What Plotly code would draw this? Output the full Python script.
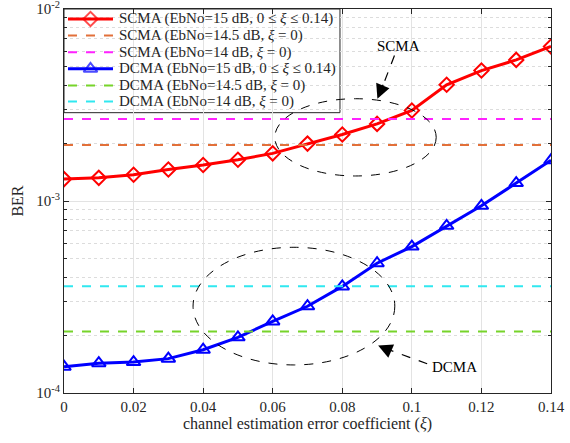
import plotly.graph_objects as go
import math

xi = [0, 0.01, 0.02, 0.03, 0.04, 0.05, 0.06, 0.07, 0.08, 0.09, 0.10, 0.11, 0.12, 0.13, 0.14]
scma_15 = [1.30e-3, 1.32e-3, 1.37e-3, 1.46e-3, 1.54e-3, 1.64e-3, 1.77e-3, 1.99e-3,
           2.22e-3, 2.52e-3, 2.96e-3, 4.03e-3, 4.78e-3, 5.43e-3, 6.38e-3]
dcma_15 = [1.37e-4, 1.43e-4, 1.45e-4, 1.51e-4, 1.68e-4, 1.95e-4, 2.36e-4, 2.83e-4,
           3.59e-4, 4.74e-4, 5.79e-4, 7.43e-4, 9.44e-4, 1.24e-3, 1.63e-3]
scma_145 = 1.96e-3
scma_14 = 2.67e-3
dcma_145 = 2.09e-4
dcma_14 = 3.60e-4

names = [
    "SCMA (EbNo=15 dB, 0 ≤ <i>ξ</i> ≤ 0.14)",
    "SCMA (EbNo=14.5 dB, <i>ξ</i> = 0)",
    "SCMA (EbNo=14 dB, <i>ξ</i> = 0)",
    "DCMA (EbNo=15 dB, 0 ≤ <i>ξ</i> ≤ 0.14)",
    "DCMA (EbNo=14.5 dB, <i>ξ</i> = 0)",
    "DCMA (EbNo=14 dB, <i>ξ</i> = 0)",
]
x_tick_vals = [0, 0.02, 0.04, 0.06, 0.08, 0.10, 0.12, 0.14]
x_tick_text = ["0", "0.02", "0.04", "0.06", "0.08", "0.1", "0.12", "0.14"]
y_tick_vals = [1e-4, 1e-3, 1e-2]
y_tick_text = ["10<sup>-4</sup>", "10<sup>-3</sup>", "10<sup>-2</sup>"]

FONT = "Liberation Serif"
INK = "#262626"

styles = [
    dict(line=dict(color="#FF0000", width=3),
         marker=dict(symbol="diamond-open", size=11, color="#FF0000", line=dict(width=2, color="#FF0000"))),
    dict(line=dict(color="#E2703A", width=2, dash="dash")),
    dict(line=dict(color="#FF22FF", width=2, dash="dash")),
    dict(line=dict(color="#0000FF", width=3),
         marker=dict(symbol="triangle-up-open", size=12, color="#0000FF", line=dict(width=2, color="#0000FF"))),
    dict(line=dict(color="#77D42A", width=2, dash="dash")),
    dict(line=dict(color="#30E8F0", width=2, dash="dash")),
]
series = [scma_15, [scma_145] * len(xi), [scma_14] * len(xi),
          dcma_15, [dcma_145] * len(xi), [dcma_14] * len(xi)]

fig = go.Figure()
for nm, ys, st in zip(names, series, styles):
    mode = "lines+markers" if "marker" in st else "lines"
    fig.add_trace(go.Scatter(x=xi, y=ys, mode=mode, name=nm, showlegend=False, **st))

# ---- manual legend (drawn in plot-fraction coordinates on a hidden overlay axis) ----
leg_x0, leg_x1, leg_y0, leg_y1 = 0.0, 0.5667, 0.730, 1.0
row_px = [19, 35.6, 52.2, 68.8, 85.4, 101.6]
plot_top, plot_h = 9, 384
row_y = [(plot_top + plot_h - p) / plot_h for p in row_px]
sx0, sx1, tx = 0.0082, 0.1006, 0.1088

fig.add_shape(type="rect", xref="paper", yref="paper", x0=leg_x0, x1=leg_x1, y0=leg_y0, y1=leg_y1,
              line=dict(color=INK, width=1), fillcolor="white", layer="between")
for nm, ry, st in zip(names, row_y, styles):
    s = dict(st)
    if "marker" in s:
        mk = dict(s["marker"])
        mk["size"] = [0, mk["size"], 0]
        s["marker"] = mk
        mode = "lines+markers"
    else:
        mode = "lines"
    fig.add_trace(go.Scatter(x=[sx0, (sx0 + sx1) / 2, sx1], y=[ry, ry, ry], mode=mode,
                             xaxis="x2", yaxis="y2", showlegend=False, hoverinfo="skip", **s))
    fig.add_annotation(x=tx, y=ry, xref="paper", yref="paper", text=nm, showarrow=False,
                       xanchor="left", yanchor="middle",
                       font=dict(family=FONT, size=15, color=INK))

# ---- ellipses ----
fig.add_shape(type="circle", xref="x", yref="y", x0=0.0606, x1=0.107, y0=1.35e-3, y1=3.41e-3,
              line=dict(color="black", width=1, dash="dash"))
fig.add_shape(type="circle", xref="x", yref="y", x0=0.0371, x1=0.0951, y0=1.40e-4, y1=5.74e-4,
              line=dict(color="black", width=1, dash="dash"))

# ---- dashed arrow shafts ----
fig.add_shape(type="line", xref="x", yref="y", x0=0.0950, y0=5.72e-3, x1=0.0917, y1=4.0e-3,
              line=dict(color="black", width=1.2, dash="dash"))
fig.add_shape(type="line", xref="x", yref="y", x0=0.1044, y0=1.42e-4, x1=0.0934, y1=1.68e-4,
              line=dict(color="black", width=1.2, dash="dash"))

# ---- arrowheads ----
fig.add_annotation(x=0.0901, y=math.log10(3.41e-3), ax=0.0919, ay=math.log10(4.1e-3),
                   xref="x", yref="y", axref="x", ayref="y", text="", showarrow=True,
                   arrowhead=2, arrowsize=2.2, arrowwidth=1.3, arrowcolor="black")
fig.add_annotation(x=0.0903, y=math.log10(1.77e-4), ax=0.0938, ay=math.log10(1.66e-4),
                   xref="x", yref="y", axref="x", ayref="y", text="", showarrow=True,
                   arrowhead=2, arrowsize=2.2, arrowwidth=1.3, arrowcolor="black")

# ---- labels ----
fig.add_annotation(x=0.0962, y=-2.195, xref="x", yref="y", text="SCMA", showarrow=False,
                   font=dict(family=FONT, size=15, color="black"))
fig.add_annotation(x=0.1123, y=-3.867, xref="x", yref="y", text="DCMA", showarrow=False,
                   font=dict(family=FONT, size=15, color="black"))

minor_vals = [k * 10 ** e for e in (-4, -3) for k in range(2, 10)]

fig.update_layout(
    width=570, height=443,
    margin=dict(l=64, r=19, t=9, b=50),
    paper_bgcolor="white", plot_bgcolor="white",
    font=dict(family=FONT, size=15, color=INK),
    showlegend=False,
    xaxis=dict(range=[0, 0.14], tickvals=x_tick_vals, ticktext=x_tick_text,
               showgrid=True, gridcolor="#E3E3E3", gridwidth=1,
               showline=True, linecolor=INK, linewidth=1, mirror="ticks",
               ticks="inside", ticklen=5, tickcolor=INK, zeroline=False,
               automargin=False, ticklabeloverflow="allow",
               title=dict(text="channel estimation error coefficient (<i>ξ</i>)", standoff=2,
                          font=dict(family=FONT, size=16, color=INK)),
               tickfont=dict(family=FONT, size=15, color=INK)),
    yaxis=dict(type="log", range=[-4, -2], tickvals=y_tick_vals, ticktext=y_tick_text,
               showgrid=True, gridcolor="#E3E3E3", gridwidth=1,
               showline=True, linecolor=INK, linewidth=1, mirror="ticks",
               ticks="inside", ticklen=5, tickcolor=INK, zeroline=False,
               automargin=False, ticklabeloverflow="allow",
               minor=dict(tickmode="array", tickvals=minor_vals, ticks="inside", ticklen=3,
                          tickcolor=INK, showgrid=True, gridcolor="#DCDCDC",
                          griddash="dot", gridwidth=1),
               title=dict(text="BER", standoff=8,
                          font=dict(family=FONT, size=16, color=INK)),
               tickfont=dict(family=FONT, size=15, color=INK)),
    xaxis2=dict(overlaying="x", range=[0, 1], visible=False, fixedrange=True),
    yaxis2=dict(overlaying="y", range=[0, 1], visible=False, fixedrange=True),
)

fig.write_html("out.html", config={"displayModeBar": False},
               post_script="document.body.style.margin='0px';document.body.style.padding='0px';")
